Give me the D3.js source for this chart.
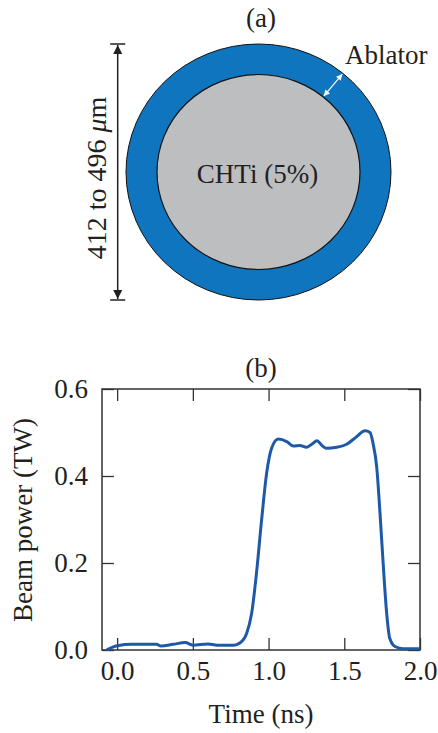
<!DOCTYPE html>
<html>
<head>
<meta charset="utf-8">
<script src="https://cdn.jsdelivr.net/npm/d3@7"></script>
<style>
  body { margin: 0; background: #fff; }
  svg text { font-family: "Liberation Serif", "Times New Roman", serif; fill: #231f20; }
</style>
</head>
<body>
<div id="chart"></div>
<script>
// pulse shape
var timeNs = [-0.07, 0.0, 0.10, 0.26, 0.29, 0.37, 0.45, 0.50, 0.60, 0.66, 0.77, 0.81,
  0.855, 0.888, 0.92, 0.954, 0.987, 1.02, 1.064, 1.12, 1.163, 1.207, 1.25, 1.285,
  1.32, 1.35, 1.38, 1.45, 1.516, 1.58, 1.637, 1.67, 1.69, 1.714, 1.736, 1.758,
  1.78, 1.80, 1.835, 1.89, 2.0];
var powerTW = [0.0, 0.010, 0.013, 0.013, 0.009, 0.013, 0.017, 0.011, 0.014, 0.011, 0.011, 0.016,
  0.038, 0.084, 0.176, 0.299, 0.406, 0.464, 0.485, 0.479, 0.469, 0.470, 0.466, 0.473,
  0.481, 0.471, 0.464, 0.466, 0.473, 0.490, 0.504, 0.500, 0.475, 0.421, 0.314, 0.192,
  0.084, 0.027, 0.008, 0.003, 0.003];
var xTicks = [0, 0.5, 1.0, 1.5, 2.0];
var yTicks = [0, 0.2, 0.4, 0.6];

// target labels
var panelLabels = ["(a)", "(b)"];
var coreLabel = "CHTi (5%)";
var shellLabel = "Ablator";
var sizeLabel = "412 to 496 ";

function init() {
    var w = 438, h = 733;
    var ink = "#231f20";
    var fs = "27px";

    var svg = d3.select("#chart")
                .append("svg")
                .attr("width", w)
                .attr("height", h);

    var defs = svg.append("defs");
    function marker(id, color, len, wid) {
        defs.append("marker")
            .attr("id", id)
            .attr("viewBox", "0 0 10 10")
            .attr("refX", 10).attr("refY", 5)
            .attr("markerUnits", "userSpaceOnUse")
            .attr("markerWidth", len).attr("markerHeight", wid)
            .attr("orient", "auto-start-reverse")
            .append("path")
            .attr("d", "M0,0 L10,5 L0,10 Z")
            .attr("fill", color);
    }
    marker("blackHead", ink, 12, 9);
    marker("whiteHead", "#fff", 7, 6);

    // ---------- panel (a): target ----------
    var cx = 258.5, cy = 172;
    var outer = {rx: 132.5, ry: 128};
    var inner = {rx: 101.5, ry: 97.5};

    svg.append("text")
        .attr("x", 261).attr("y", 27)
        .attr("text-anchor", "middle")
        .style("font-size", fs)
        .text(panelLabels[0]);

    svg.append("ellipse")
        .attr("cx", cx).attr("cy", cy)
        .attr("rx", outer.rx).attr("ry", outer.ry)
        .attr("fill", "#1075bf")
        .attr("stroke", "#111").attr("stroke-width", 1);

    svg.append("ellipse")
        .attr("cx", cx).attr("cy", cy)
        .attr("rx", inner.rx).attr("ry", inner.ry)
        .attr("fill", "#bdbec0")
        .attr("stroke", "#111").attr("stroke-width", 1.2);

    svg.append("text")
        .attr("x", cx - 1).attr("y", 183)
        .attr("text-anchor", "middle")
        .style("font-size", fs)
        .text(coreLabel);

    // ablator thickness arrow
    var ang = -0.88;
    var a1 = [cx + (inner.rx + 1) * Math.cos(ang), cy + (inner.ry + 1) * Math.sin(ang)];
    var a2 = [cx + (outer.rx - 1) * Math.cos(ang), cy + (outer.ry - 1) * Math.sin(ang)];
    svg.append("line")
        .attr("x1", a1[0]).attr("y1", a1[1])
        .attr("x2", a2[0]).attr("y2", a2[1])
        .attr("stroke", "#fff").attr("stroke-width", 1.2)
        .attr("marker-start", "url(#whiteHead)")
        .attr("marker-end", "url(#whiteHead)");

    svg.append("text")
        .attr("x", 345).attr("y", 64)
        .style("font-size", fs)
        .text(shellLabel);

    // diameter arrow
    var ax = 117.7, top = cy - outer.ry, bot = cy + outer.ry;
    svg.append("line")
        .attr("x1", ax).attr("y1", top + 1)
        .attr("x2", ax).attr("y2", bot - 1)
        .attr("stroke", ink).attr("stroke-width", 1.5)
        .attr("marker-start", "url(#blackHead)")
        .attr("marker-end", "url(#blackHead)");
    [top, bot].forEach(function(y) {
        svg.append("line")
            .attr("x1", ax - 7.5).attr("x2", ax + 7.5)
            .attr("y1", y).attr("y2", y)
            .attr("stroke", ink).attr("stroke-width", 1.5);
    });

    var sz = svg.append("text")
        .attr("transform", "translate(106,178) rotate(-90)")
        .attr("text-anchor", "middle")
        .style("font-size", "28px");
    sz.append("tspan").text(sizeLabel);
    sz.append("tspan").style("font-style", "italic").text("\u03bc");
    sz.append("tspan").text("m");

    // ---------- panel (b): beam power ----------
    var m = {left: 102, right: 420, top: 389, bottom: 650};

    var x = d3.scaleLinear().domain([-0.1, 2.0]).range([m.left, m.right]);
    var y = d3.scaleLinear().domain([0, 0.6]).range([m.bottom, m.top]);

    svg.append("text")
        .attr("x", 261).attr("y", 377)
        .attr("text-anchor", "middle")
        .style("font-size", fs)
        .text(panelLabels[1]);

    var tk = 12;
    var fmt = d3.format(".1f");

    function styleAxis(g) {
        g.select(".domain").remove();
        g.selectAll(".tick line").attr("stroke", "#333").attr("stroke-width", 1.3);
        g.selectAll(".tick text")
            .style("font-family", "'Liberation Serif', serif")
            .style("font-size", fs)
            .attr("fill", ink);
    }

    svg.append("g")
        .attr("transform", "translate(0," + m.bottom + ")")
        .call(d3.axisBottom(x).tickValues(xTicks).tickFormat(fmt).tickSizeInner(-tk).tickPadding(11))
        .call(styleAxis);
    svg.append("g")
        .attr("transform", "translate(0," + m.top + ")")
        .call(d3.axisTop(x).tickValues(xTicks).tickFormat("").tickSizeInner(-tk))
        .call(styleAxis);
    svg.append("g")
        .attr("transform", "translate(" + m.left + ",0)")
        .call(d3.axisLeft(y).tickValues(yTicks).tickFormat(fmt).tickSizeInner(-tk).tickPadding(14))
        .call(styleAxis);
    svg.append("g")
        .attr("transform", "translate(" + m.right + ",0)")
        .call(d3.axisRight(y).tickValues(yTicks).tickFormat("").tickSizeInner(-tk))
        .call(styleAxis);

    svg.append("rect")
        .attr("x", m.left).attr("y", m.top)
        .attr("width", m.right - m.left).attr("height", m.bottom - m.top)
        .attr("fill", "none")
        .attr("stroke", "#333").attr("stroke-width", 1.5);

    var line = d3.line()
                 .x(function(d) { return x(d[0]); })
                 .y(function(d) { return y(d[1]); })
                 .curve(d3.curveMonotoneX);

    svg.append("path")
        .datum(d3.zip(timeNs, powerTW))
        .attr("d", line)
        .attr("fill", "none")
        .attr("stroke", "#1d59a8")
        .attr("stroke-width", 3)
        .attr("stroke-linejoin", "round");

    svg.append("text")
        .attr("x", 261).attr("y", 723)
        .attr("text-anchor", "middle")
        .style("font-size", fs)
        .text("Time (ns)");

    svg.append("text")
        .attr("transform", "translate(32,520) rotate(-90)")
        .attr("text-anchor", "middle")
        .style("font-size", fs)
        .text("Beam power (TW)");
}

window.onload = init;
</script>
</body>
</html>
